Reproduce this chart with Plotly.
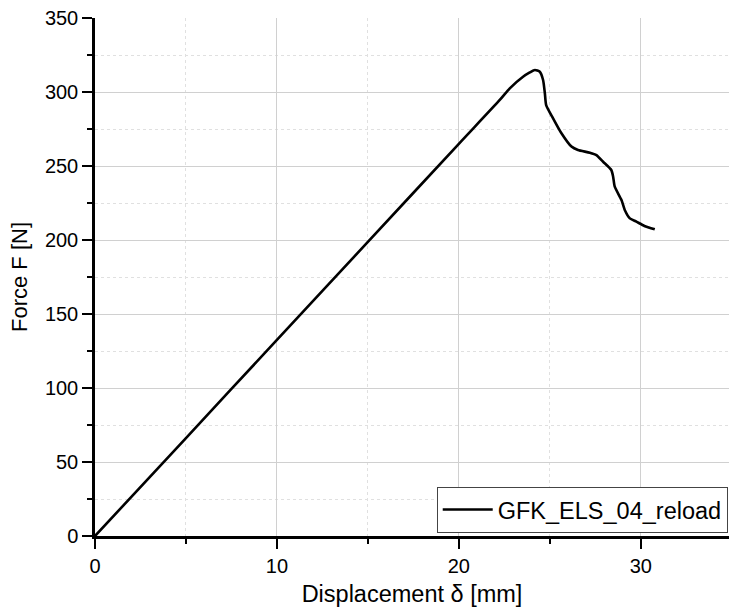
import plotly.graph_objects as go

series_name = "GFK_ELS_04_reload"
displacement = [0, 5, 10, 15, 20, 22.25, 22.8, 23.53, 23.9, 24.18, 24.45, 24.63, 24.73,
                24.8, 25.18, 25.64, 26.19, 26.55, 27.2, 27.56, 27.93, 28.38, 28.48,
                28.57, 28.94, 29.12, 29.4, 29.76, 30.2, 30.77]
force = [0, 66.2, 132.5, 198.7, 265, 294.6, 302.5, 310.3, 313.2, 314.9, 313.7, 308.1, 299,
         291.2, 282.2, 272.1, 263.1, 260.8, 259, 257.4, 252.9, 247.3, 242.8,
         236, 227, 220.3, 214.6, 212.4, 209.5, 207.2]

x_ticks = [0, 10, 20, 30]
y_ticks = [0, 50, 100, 150, 200, 250, 300, 350]

fig = go.Figure()
fig.add_trace(go.Scatter(x=displacement, y=force, mode="lines", name=series_name,
                         line=dict(color="black", width=2.6, shape="spline", smoothing=0.6)))

font_family = "Liberation Sans, Arial, sans-serif"

fig.update_layout(
    width=729, height=616,
    margin=dict(l=95, r=0, t=18, b=80),
    paper_bgcolor="white", plot_bgcolor="white",
    font=dict(family=font_family, color="black", size=20),
    showlegend=True,
    legend=dict(x=0.539, y=0.095, xanchor="left", yanchor="top",
                bgcolor="white", bordercolor="#444444", borderwidth=1,
                font=dict(size=23.5, family=font_family, color="black"),
                itemwidth=50),
    xaxis=dict(range=[0, 34.85], tickvals=x_ticks, ticks="outside", ticklen=10, tickwidth=2,
               tickcolor="black", showline=True, linecolor="black", linewidth=2.5,
               showgrid=True, gridcolor="#d0d0d0", gridwidth=1, zeroline=False,
               tickfont=dict(size=20),
               minor=dict(dtick=5, ticks="outside", ticklen=5, tickwidth=2, tickcolor="black",
                          showgrid=True, gridcolor="#e0e0e0", griddash="3px,3px", gridwidth=1),
               title=dict(text="Displacement δ [mm]", font=dict(size=23.5), standoff=10)),
    yaxis=dict(range=[0, 350], tickvals=y_ticks, ticks="outside", ticklen=10, tickwidth=2,
               tickcolor="black", showline=True, linecolor="black", linewidth=2.5,
               showgrid=True, gridcolor="#d0d0d0", gridwidth=1, zeroline=False,
               tickfont=dict(size=20),
               minor=dict(dtick=25, ticks="outside", ticklen=5, tickwidth=2, tickcolor="black",
                          showgrid=True, gridcolor="#e0e0e0", griddash="3px,3px", gridwidth=1),
               title=dict(text="Force F [N]", font=dict(size=22), standoff=12)),
)

fig.write_html("out.html")
